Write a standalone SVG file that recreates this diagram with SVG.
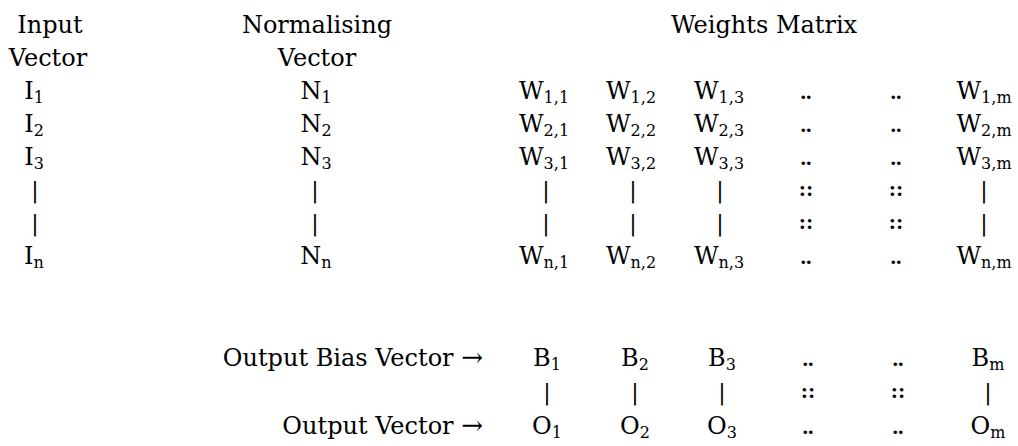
<svg xmlns="http://www.w3.org/2000/svg" width="1018" height="446" viewBox="0 0 1018 446">
<style>
text{font-family:"DejaVu Serif","Liberation Serif",serif;font-size:24px;fill:#000;text-anchor:middle}
.sub{font-size:16px}
.dot{font-family:"Liberation Serif",serif;font-size:22px;font-weight:bold}
.bar{font-family:"DejaVu Serif",serif;font-size:22px}
.lbl{text-anchor:end}
</style>
<rect width="1018" height="446" fill="#fff"/>
<g id="input-vector">
<text x="50" y="33">Input</text>
<text x="48" y="66">Vector</text>
<text x="34" y="99">I<tspan class="sub" dy="4">1</tspan></text>
<text x="34" y="132">I<tspan class="sub" dy="4">2</tspan></text>
<text x="34" y="165">I<tspan class="sub" dy="4">3</tspan></text>
<text class="bar" x="35" y="198">|</text>
<text class="bar" x="35" y="231">|</text>
<text x="34" y="264">I<tspan class="sub" dy="4">n</tspan></text>
</g>
<g id="normalising-vector">
<text x="317" y="33">Normalising</text>
<text x="317" y="66">Vector</text>
<text x="316" y="99">N<tspan class="sub" dy="4">1</tspan></text>
<text x="316" y="132">N<tspan class="sub" dy="4">2</tspan></text>
<text x="316" y="165">N<tspan class="sub" dy="4">3</tspan></text>
<text class="bar" x="315" y="198">|</text>
<text class="bar" x="315" y="231">|</text>
<text x="316" y="264">N<tspan class="sub" dy="4">n</tspan></text>
</g>
<g id="weights-matrix">
<text x="764" y="33">Weights Matrix</text>
<text x="544" y="99">W<tspan class="sub" dy="4">1,1</tspan></text>
<text x="631" y="99">W<tspan class="sub" dy="4">1,2</tspan></text>
<text x="719" y="99">W<tspan class="sub" dy="4">1,3</tspan></text>
<text class="dot" x="806" y="99">..</text>
<text class="dot" x="896" y="99">..</text>
<text x="984" y="99">W<tspan class="sub" dy="4">1,m</tspan></text>
<text x="544" y="132">W<tspan class="sub" dy="4">2,1</tspan></text>
<text x="631" y="132">W<tspan class="sub" dy="4">2,2</tspan></text>
<text x="719" y="132">W<tspan class="sub" dy="4">2,3</tspan></text>
<text class="dot" x="806" y="132">..</text>
<text class="dot" x="896" y="132">..</text>
<text x="984" y="132">W<tspan class="sub" dy="4">2,m</tspan></text>
<text x="544" y="165">W<tspan class="sub" dy="4">3,1</tspan></text>
<text x="631" y="165">W<tspan class="sub" dy="4">3,2</tspan></text>
<text x="719" y="165">W<tspan class="sub" dy="4">3,3</tspan></text>
<text class="dot" x="806" y="165">..</text>
<text class="dot" x="896" y="165">..</text>
<text x="984" y="165">W<tspan class="sub" dy="4">3,m</tspan></text>
<text class="bar" x="546" y="198">|</text>
<text class="bar" x="633" y="198">|</text>
<text class="bar" x="720" y="198">|</text>
<text class="dot" x="806" y="196">::</text>
<text class="dot" x="896" y="196">::</text>
<text class="bar" x="984" y="198">|</text>
<text class="bar" x="546" y="231">|</text>
<text class="bar" x="633" y="231">|</text>
<text class="bar" x="720" y="231">|</text>
<text class="dot" x="806" y="229">::</text>
<text class="dot" x="896" y="229">::</text>
<text class="bar" x="984" y="231">|</text>
<text x="544" y="264">W<tspan class="sub" dy="4">n,1</tspan></text>
<text x="631" y="264">W<tspan class="sub" dy="4">n,2</tspan></text>
<text x="719" y="264">W<tspan class="sub" dy="4">n,3</tspan></text>
<text class="dot" x="806" y="264">..</text>
<text class="dot" x="896" y="264">..</text>
<text x="984" y="264">W<tspan class="sub" dy="4">n,m</tspan></text>
</g>
<g id="output-bias-vector">
<text class="lbl" x="483" y="366">Output Bias Vector <tspan font-size="26">→</tspan></text>
<text x="547" y="366">B<tspan class="sub" dy="4">1</tspan></text>
<text x="635" y="366">B<tspan class="sub" dy="4">2</tspan></text>
<text x="722" y="366">B<tspan class="sub" dy="4">3</tspan></text>
<text class="dot" x="808" y="366">..</text>
<text class="dot" x="898" y="366">..</text>
<text x="988" y="366">B<tspan class="sub" dy="4">m</tspan></text>
<text class="bar" x="547" y="400">|</text>
<text class="bar" x="635" y="400">|</text>
<text class="bar" x="722" y="400">|</text>
<text class="dot" x="808" y="398">::</text>
<text class="dot" x="898" y="398">::</text>
<text class="bar" x="988" y="400">|</text>
</g>
<g id="output-vector">
<text class="lbl" x="483" y="434">Output Vector <tspan font-size="26">→</tspan></text>
<text x="547" y="434">O<tspan class="sub" dy="4">1</tspan></text>
<text x="635" y="434">O<tspan class="sub" dy="4">2</tspan></text>
<text x="722" y="434">O<tspan class="sub" dy="4">3</tspan></text>
<text class="dot" x="808" y="434">..</text>
<text class="dot" x="898" y="434">..</text>
<text x="988" y="434">O<tspan class="sub" dy="4">m</tspan></text>
</g>
</svg>
